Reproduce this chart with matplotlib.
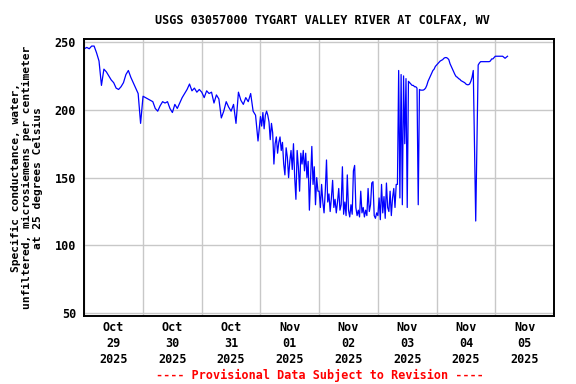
import numpy as np
import pandas as pd
import matplotlib
matplotlib.use("Agg")
import matplotlib.pyplot as plt
import matplotlib.dates as mdates

# specific conductance readings, one list per day (Oct 29 .. Nov 05, 2025)
day_starts = pd.date_range("2025-10-29", periods=8, freq="D")
step_minutes = [60, 60, 60, 30, 30, 30, 30, 60]

oct29 = [245, 246, 245, 247, 247, 242, 236, 218, 230, 228, 225, 222,
         220, 216, 215, 217, 220, 226, 229, 224, 220, 216, 212, 190]
oct30 = [210, 209, 208, 207, 206, 201, 199, 203, 206, 205, 206, 201,
         198, 204, 201, 205, 209, 212, 215, 219, 214, 216, 213, 215]
oct31 = [213, 209, 214, 212, 213, 205, 211, 208, 194, 199, 206, 202,
         199, 204, 190, 213, 207, 204, 209, 206, 212, 199, 196, 177]
nov01 = [195, 188, 198, 186, 196, 199, 196, 191, 178, 190, 183, 160,
         175, 180, 168, 176, 180, 170, 176, 160, 152, 172, 165, 150,
         162, 170, 156, 175, 150, 134, 170, 158, 140, 168, 160, 170,
         155, 168, 150, 162, 126, 150, 173, 145, 158, 130, 150, 140]
nov02 = [140, 128, 145, 132, 124, 140, 163, 132, 138, 125, 135, 148,
         128, 134, 124, 132, 142, 126, 130, 158, 123, 132, 122, 152,
         126, 121, 130, 123, 155, 159, 128, 122, 126, 121, 140, 124,
         128, 121, 126, 122, 142, 125, 130, 146, 147, 122, 120, 124]
nov03 = [122, 135, 119, 145, 124, 136, 120, 146, 128, 125, 140, 122,
         135, 142, 128, 145, 145, 229, 135, 226, 130, 225, 175, 223,
         128, 221, 220, 219, 218, 218, 217, 217, 216, 130, 215, 214.5,
         214.5, 214.5, 215, 216, 218, 221, 223, 225, 227, 229, 230, 232]
nov04 = [233, 234, 235, 236, 236.5, 237, 238, 238.5, 238.5, 238, 237, 234,
         232, 230, 228, 226, 224.5, 224, 223, 222.5, 221.5, 221, 220.5, 220,
         219, 218.5, 218.5, 219, 221, 224, 229, 174, 118, 174, 233, 234.5,
         235.5, 235.5, 235.5, 235.5, 235.5, 235.5, 235.5, 235.5, 236, 237.5, 237.5, 238.5]
nov05 = [239.5, 239.5, 239.5, 239.5, 238, 239.5]

days = [oct29, oct30, oct31, nov01, nov02, nov03, nov04, nov05]

times = []
values = []
for start, step, vals in zip(day_starts, step_minutes, days):
    times.extend(start + pd.to_timedelta(np.arange(len(vals)) * step, unit="min"))
    values.extend(vals)

title = "USGS 03057000 TYGART VALLEY RIVER AT COLFAX, WV"
ylabel = ("Specific conductance, water,\n"
          "unfiltered, microsiemens per centimeter\n"
          "at 25 degrees Celsius")
footer = "---- Provisional Data Subject to Revision ----"
yticks = [50, 100, 150, 200, 250]

font = {"family": "DejaVu Sans Mono", "weight": "bold", "size": 8.5}

fig = plt.figure(figsize=(5.76, 3.84), dpi=100)
ax = fig.add_axes([0.1464, 0.1779, 0.8154, 0.7198])

ax.plot(times, values, color="#0000ff", lw=0.9)

ax.set_xlim(pd.Timestamp("2025-10-29"), pd.Timestamp("2025-11-06"))
ax.set_ylim(48.2, 252)
ax.set_yticks(yticks)
ax.set_yticklabels([str(v) for v in yticks], fontdict=font)

# gridlines at midnight, labels at noon
ax.xaxis.set_major_locator(mdates.DayLocator())
ax.xaxis.set_major_formatter(plt.NullFormatter())
ax.xaxis.set_minor_locator(mdates.HourLocator(byhour=[12]))
ax.xaxis.set_minor_formatter(mdates.DateFormatter("%b\n%d\n%Y"))
for lab in ax.xaxis.get_minorticklabels():
    lab.set_fontfamily("DejaVu Sans Mono")
    lab.set_fontweight("bold")
    lab.set_fontsize(8.5)
    lab.set_linespacing(1.3)
ax.tick_params(axis="both", which="both", length=0, pad=4)
ax.tick_params(axis="y", pad=6)

ax.grid(True, which="major", color="#c8c8c8", lw=1.0)
ax.set_axisbelow(True)
for s in ax.spines.values():
    s.set_linewidth(1.4)
    s.set_color("black")

fig.text(0.56, 0.947, title, ha="center", va="center", fontdict=font)
fig.text(0.047, 0.537, ylabel, ha="center", va="center", rotation=90,
         multialignment="center", linespacing=1.15,
         fontdict={**font, "size": 8.1})
fig.text(0.556, 0.023, footer, ha="center", va="center", color="red",
         fontdict=font)

fig.savefig("out.png", dpi=100)
